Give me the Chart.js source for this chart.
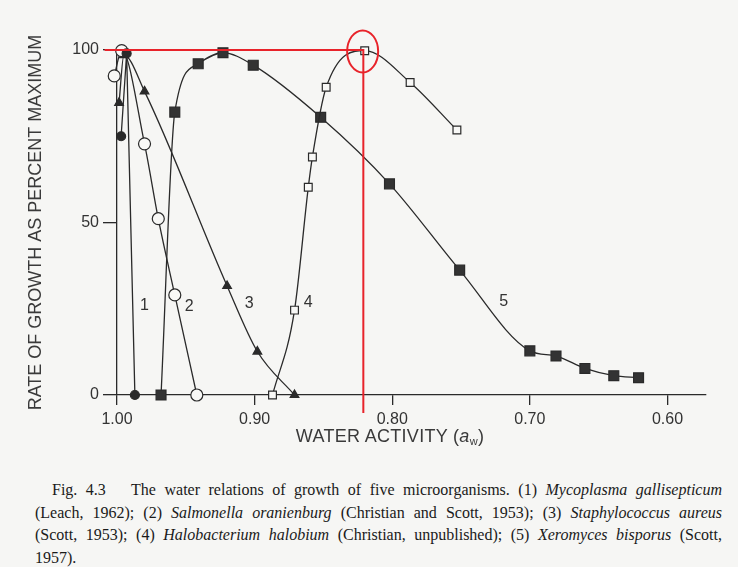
<!DOCTYPE html>
<html>
<head>
<meta charset="utf-8">
<script src="https://cdn.jsdelivr.net/npm/chart.js@4"></script>
<style>
  body { margin: 0; background: #f6f6f4; width: 738px; height: 567px; overflow: hidden; }
  #wrap { position: relative; width: 738px; height: 460px; }
  #xTitle { position: absolute; left: 0; width: 780px; top: 426px; text-align: center;
            font: 18px "Liberation Sans", Arial, sans-serif; color: #3a3a3a; letter-spacing: 0.3px; }
  #xTitle sub { font-size: 11px; vertical-align: -3px; }
  #caption { position: absolute; left: 35px; top: 479px; width: 687px;
             font: 16px "Liberation Serif", "Times New Roman", serif; color: #1a1a1a; line-height: 22.5px; }
  #caption div { text-align: justify; text-align-last: justify; white-space: nowrap; }
  #caption div.last { text-align-last: left; }
</style>
</head>
<body>
<div id="wrap">
  <canvas id="chart" width="738" height="460"></canvas>
  <div id="xTitle">WATER ACTIVITY (<i>a</i><sub>w</sub>)</div>
</div>
<div id="caption">
  <div style="padding-left:17px;">Fig. 4.3&nbsp;&nbsp; The water relations of growth of five microorganisms. (1) <i>Mycoplasma gallisepticum</i></div>
  <div>(Leach, 1962); (2) <i>Salmonella oranienburg</i> (Christian and Scott, 1953); (3) <i>Staphylococcus aureus</i></div>
  <div>(Scott, 1953); (4) <i>Halobacterium halobium</i> (Christian, unpublished); (5) <i>Xeromyces bisporus</i> (Scott,</div>
  <div class="last">1957).</div>
</div>
<script>
// axis ticks
const xTicks = [1.00, 0.90, 0.80, 0.70, 0.60];
const yTicks = [0, 50, 100];

// (1) Mycoplasma gallisepticum
const s1Aw = [0.997, 0.993, 0.987];
const s1Growth = [75, 99, 0];
// (2) Salmonella oranienburg
const s2Aw = [1.002, 0.9966, 0.980, 0.970, 0.958, 0.942];
const s2Growth = [92.5, 99.8, 72.8, 51.1, 29, 0];
// (3) Staphylococcus aureus
const s3Aw = [0.9985, 0.995, 0.980, 0.920, 0.898, 0.871];
const s3Growth = [84.7, 98.5, 88, 31.6, 12.6, 0];
// (4) Halobacterium halobium
const s4Aw = [0.887, 0.871, 0.861, 0.858, 0.848, 0.820, 0.787, 0.753];
const s4Growth = [0, 24.6, 60.2, 69, 89.2, 99.8, 90.6, 76.8];
// (5) Xeromyces bisporus
const s5Aw = [0.968, 0.958, 0.941, 0.923, 0.901, 0.852, 0.802, 0.751, 0.700, 0.681, 0.660, 0.639, 0.621];
const s5Growth = [0, 82, 96, 99.2, 95.6, 80.5, 61.2, 36.2, 12.8, 11.3, 7.7, 5.6, 5.0];

// curve numbers written on the plot
const curveLabels = ['1', '2', '3', '4', '5'];
const curveLabelAw = [0.980, 0.9475, 0.904, 0.861, 0.719];
const curveLabelGrowth = [25.8, 25.5, 26.4, 26.7, 27];

// red highlight (line at 100% and drop to the axis, circled optimum)
const redAw = [1.009, 0.821, 0.821];
const redGrowth = [100, 100, -5.2];
const circleAw = 0.8215;
const circleGrowth = 99.6;

const INK = '#2a2a2a';
const RED = '#e8232a';

function pts(xs, ys) {
    return xs.map((x, i) => ({ x: x, y: ys[i] }));
}

function curve(xs, ys, style, radius, fill, smooth) {
    return {
        data: pts(xs, ys),
        borderColor: INK,
        borderWidth: 1.3,
        pointStyle: style,
        pointRadius: radius,
        pointBackgroundColor: fill,
        pointBorderColor: INK,
        pointBorderWidth: 1.2,
        cubicInterpolationMode: smooth ? 'monotone' : 'default',
        tension: 0,
        clip: false
    };
}

// draws the curve numbers and the red ellipse
const overlayPlugin = {
    id: 'overlay',
    afterDatasetsDraw(chart) {
        const ctx = chart.ctx;
        const xs = chart.scales.x, ys = chart.scales.y;
        ctx.save();
        ctx.font = '16px "Liberation Sans", Arial, sans-serif';
        ctx.fillStyle = '#333';
        ctx.textAlign = 'center';
        ctx.textBaseline = 'middle';
        curveLabels.forEach((t, i) => {
            ctx.fillText(t, xs.getPixelForValue(curveLabelAw[i]), ys.getPixelForValue(curveLabelGrowth[i]));
        });
        ctx.strokeStyle = RED;
        ctx.lineWidth = 2;
        ctx.beginPath();
        ctx.ellipse(xs.getPixelForValue(circleAw), ys.getPixelForValue(circleGrowth), 15.5, 21, 0, 0, Math.PI * 2);
        ctx.stroke();
        ctx.restore();
    }
};

new Chart(document.getElementById('chart').getContext('2d'), {
    type: 'line',
    data: {
        datasets: [
            {
                data: pts(redAw, redGrowth),
                borderColor: RED,
                borderWidth: 2,
                pointRadius: 0,
                tension: 0,
                clip: false,
                order: -1
            },
            curve(s1Aw, s1Growth, 'circle', 4.5, INK, false),
            curve(s2Aw, s2Growth, 'circle', 6, '#f8f8f6', true),
            curve(s3Aw, s3Growth, 'triangle', 5, INK, true),
            curve(s4Aw, s4Growth, 'rect', 5.5, '#f8f8f6', true),
            curve(s5Aw, s5Growth, 'rect', 7, '#333', true)
        ]
    },
    options: {
        responsive: false,
        animation: false,
        layout: { padding: { left: 0, right: 32, top: 50, bottom: 0 } },
        plugins: {
            legend: { display: false },
            tooltip: { enabled: false }
        },
        scales: {
            x: {
                type: 'linear',
                reverse: true,
                min: 0.572,
                max: 1.0,
                afterBuildTicks: s => { s.ticks = xTicks.map(v => ({ value: v })); },
                afterFit: s => { s.height = 65; },
                ticks: {
                    callback: v => v.toFixed(2),
                    font: { family: '"Liberation Sans", Arial, sans-serif', size: 16 },
                    color: '#333',
                    padding: 5,
                    maxRotation: 0
                },
                grid: { drawOnChartArea: false, tickLength: 10, color: INK, lineWidth: 1.3 },
                border: { color: INK, width: 1.3 }
            },
            y: {
                min: 0,
                max: 100,
                afterBuildTicks: s => { s.ticks = yTicks.map(v => ({ value: v })); },
                afterFit: s => { s.width = 117; },
                ticks: {
                    font: { family: '"Liberation Sans", Arial, sans-serif', size: 16 },
                    color: '#333',
                    padding: 4
                },
                grid: { drawOnChartArea: false, tickLength: 14, color: INK, lineWidth: 1.3 },
                border: { color: INK, width: 1.3 },
                title: {
                    display: true,
                    text: 'RATE OF GROWTH AS PERCENT MAXIMUM',
                    font: { family: '"Liberation Sans", Arial, sans-serif', size: 18 },
                    color: '#3a3a3a',
                    padding: { top: 25, bottom: 0 }
                }
            }
        }
    },
    plugins: [overlayPlugin]
});
</script>
</body>
</html>
